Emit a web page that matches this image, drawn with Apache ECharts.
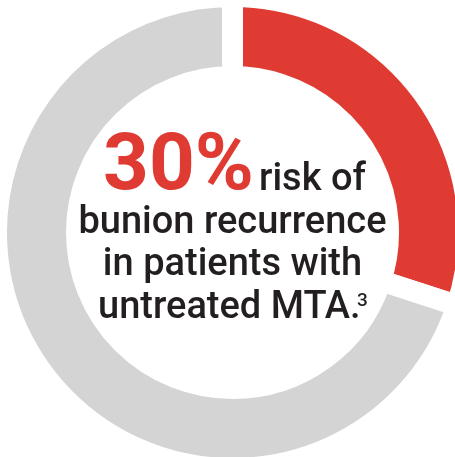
<!DOCTYPE html>
<html>
<head>
<meta charset="utf-8">
<script src="https://cdn.jsdelivr.net/npm/echarts@6/dist/echarts.min.js"></script>
<style>
  html, body { margin: 0; padding: 0; background: #fff; }
  #main { width: 455px; height: 457px; }
</style>
</head>
<body>
<div id="main"></div>
<script>
// donut data
var categories = ["Recurrence", "No recurrence"];
var values = [30, 70];
var sliceColors = ["#e03b32", "#d4d4d4"];

// centre text
var bigText = "30%";
var lineOneRest = "risk of";
var textLines = ["bunion recurrence", "in patients with", "untreated MTA."];
var footnote = "3";

var myChart = echarts.init(document.getElementById("main"), null, { renderer: "canvas" });

var cx = 232.5, cy = 232.5;
var dark = "#231f20";
var font = "Roboto, 'Noto Sans', sans-serif";

myChart.setOption({
  animation: false,
  series: [
    {
      type: "pie",
      silent: true,
      center: [cx, cy],
      radius: [156, 236],
      startAngle: 90,
      clockwise: true,
      label: { show: false },
      labelLine: { show: false },
      // white border makes the even-width gaps between slices
      itemStyle: {
        borderColor: "#ffffff",
        borderWidth: 21
      },
      data: categories.map(function (c, i) {
        return { name: c, value: values[i], itemStyle: { color: sliceColors[i] } };
      })
    }
  ],
  graphic: [
    {
      type: "text",
      z: 100,
      left: 103,
      top: 129,
      style: {
        text: bigText,
        fill: "#e03b32",
        font: "bold 80px " + font
      }
    },
    {
      type: "text",
      z: 100,
      left: 259,
      top: 161,
      style: {
        text: lineOneRest,
        fill: dark,
        font: "500 38px " + font
      }
    },
    {
      type: "text",
      z: 100,
      x: cx,
      y: 223,
      style: {
        text: textLines[0],
        fill: dark,
        font: "500 38px " + font,
        align: "center",
        verticalAlign: "middle"
      }
    },
    {
      type: "text",
      z: 100,
      x: cx,
      y: 265.5,
      style: {
        text: textLines[1],
        fill: dark,
        font: "500 38px " + font,
        align: "center",
        verticalAlign: "middle"
      }
    },
    {
      type: "text",
      z: 100,
      x: 98,
      y: 308,
      style: {
        text: textLines[2],
        fill: dark,
        font: "500 38px " + font,
        align: "left",
        verticalAlign: "middle"
      }
    },
    {
      type: "text",
      z: 100,
      x: 357,
      y: 301,
      style: {
        text: footnote,
        fill: dark,
        font: "500 19px " + font,
        align: "left",
        verticalAlign: "middle"
      }
    }
  ]
});

window.onresize = function () {
  myChart.resize();
};
</script>
</body>
</html>
